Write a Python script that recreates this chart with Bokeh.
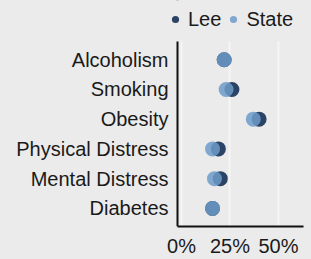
from bokeh.plotting import figure
from bokeh.models import (Range1d, FixedTicker, NumeralTickFormatter, Legend, LegendItem,
                          ColumnDataSource, BoxAnnotation, Span)
from bokeh.embed import file_html
from bokeh.resources import INLINE

categories = ["Alcoholism", "Smoking", "Obesity", "Physical Distress", "Mental Distress", "Diabetes"]
lee = [0.22, 0.26, 0.40, 0.19, 0.20, 0.16]
state = [0.22, 0.23, 0.37, 0.16, 0.17, 0.16]
x_ticks = [0, 0.25, 0.5]
series_names = ["Lee", "State"]

BG = "#ebebeb"
FONT = "Liberation Sans"
FS = "20px"
AXIS_COLOR = "#111111"

n = len(categories)
ypos = [n - i for i in range(n)]  # top category highest
src = ColumnDataSource(dict(cat=categories, y=ypos, lee=lee, state=state))

# axis extents (data units)
X_AXIS_START, X_AXIS_END = -0.0206, 0.6289
Y_AXIS_START, Y_AXIS_END = 0.3914, 6.609

p = figure(width=311, height=259, output_backend="svg", toolbar_location=None,
           x_range=Range1d(-0.0773, 0.6701), y_range=Range1d(0.3914, 7.990),
           min_border_left=166, min_border_right=0, min_border_top=0, min_border_bottom=28)
p.background_fill_color = BG
p.border_fill_color = BG
p.outline_line_color = None

p.xgrid.ticker = FixedTicker(ticks=x_ticks)
p.xgrid.grid_line_color = "#f5f5f5"
p.xgrid.grid_line_width = 2
p.ygrid.grid_line_color = None
# vertical axis line at the start of the x-axis extent
p.add_layout(Span(location=X_AXIS_START, dimension="height", line_color=AXIS_COLOR,
                  line_width=2, level="underlay"))
# hide grid / axis line above the axis extent (legend area)
p.add_layout(BoxAnnotation(bottom=Y_AXIS_END, fill_color=BG, fill_alpha=1, line_color=None, level="underlay"))

r_lee = p.scatter(x="lee", y="y", source=src, size=15, fill_color="#2b4466", line_color=None)
r_state = p.scatter(x="state", y="y", source=src, size=15, fill_color="#6d9bc9", fill_alpha=0.85, line_color=None)

p.xaxis.ticker = FixedTicker(ticks=x_ticks)
p.xaxis.formatter = NumeralTickFormatter(format="0%")
p.xaxis.bounds = (X_AXIS_START, X_AXIS_END)
p.yaxis.ticker = FixedTicker(ticks=ypos)
p.yaxis.major_label_overrides = {y: c for y, c in zip(ypos, categories)}
for ax in (p.xaxis[0], p.yaxis[0]):
    ax.axis_line_color = AXIS_COLOR
    ax.axis_line_width = 2
    ax.major_tick_line_color = None
    ax.minor_tick_line_color = None
    ax.major_tick_out = 0
    ax.major_tick_in = 0
    ax.major_label_text_font = FONT
    ax.major_label_text_font_size = FS
    ax.major_label_text_color = "#1a1a1a"
p.yaxis.axis_line_color = None
p.xaxis.major_label_standoff = 8
p.yaxis.major_label_standoff = -2

legend = Legend(items=[LegendItem(label=series_names[0], renderers=[r_lee]),
                       LegendItem(label=series_names[1], renderers=[r_state])],
                orientation="horizontal", location=(0, 195.5),
                glyph_width=18, glyph_height=20, label_height=20,
                label_standoff=4, spacing=3, padding=0, margin=0,
                label_text_font=FONT, label_text_font_size=FS, label_text_color="#1a1a1a",
                background_fill_alpha=0, border_line_color=None)
p.add_layout(legend, "center")

html = file_html(p, INLINE)
html = html.replace("</head>", "<style>html,body{margin:0;padding:0;background:#ebebeb;overflow:hidden}</style></head>", 1)
open("out.html", "w").write(html)
